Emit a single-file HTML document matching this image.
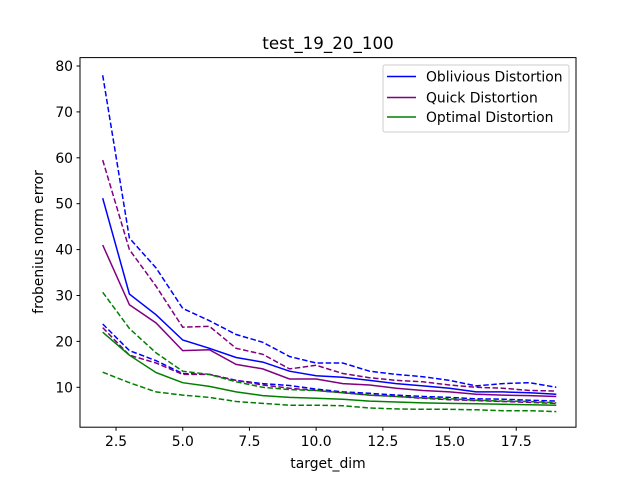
<!DOCTYPE html>
<html><head><meta charset="utf-8"><style>body{margin:0;background:#fff}svg{display:block;font-family:"DejaVu Sans","Liberation Sans",sans-serif}</style></head>
<body>
<svg id="chart" width="640" height="480">
<rect width="640" height="480" fill="#fff"/>
<text x="328" y="49" font-size="16.7" text-anchor="middle">test_19_20_100</text>
<g id="plot"></g>
<rect x="80" y="57.6" width="496" height="369.6" fill="none" stroke="#000" stroke-width="1"/>
<g id="axes" font-size="13.9"></g>
<text x="328" y="468" font-size="13.9" text-anchor="middle">target_dim</text>
<text transform="translate(43,242) rotate(-90)" font-size="13.9" text-anchor="middle">frobenius norm error</text>
<g>
<rect x="383" y="65" width="186" height="67" rx="2" fill="#fff" stroke="#ccc"/>
<line x1="387" y1="76.5" x2="416" y2="76.5" stroke="blue" stroke-width="1.5"/>
<text x="426" y="81.5" font-size="13.9">Oblivious Distortion</text>
<line x1="387" y1="97.5" x2="416" y2="97.5" stroke="purple" stroke-width="1.5"/>
<text x="426" y="102.5" font-size="13.9">Quick Distortion</text>
<line x1="387" y1="117" x2="416" y2="117" stroke="green" stroke-width="1.5"/>
<text x="426" y="122" font-size="13.9">Optimal Distortion</text>
</g>
</svg>
<script>
const dims=[2,3,4,5,6,7,8,9,10,11,12,13,14,15,16,17,18,19];
const oblivious=[51.2,30.3,25.8,20.3,18.5,16.5,15.5,13.5,12.5,12.2,11.5,10.8,10.3,9.8,9.0,9.0,8.8,8.5];
const obliviousHi=[78,42.5,36,27.2,24.5,21.5,19.8,16.7,15.3,15.3,13.5,12.8,12.3,11.5,10.3,10.8,11,10];
const obliviousLo=[23.8,18,15.8,13,12.8,11.5,10.8,10.4,9.6,9,8.7,8.3,8,7.8,7.5,7.4,7.2,7.0];
const quick=[41,28,24,18,18.2,15,14,11.8,11.8,10.8,10.5,9.8,9.3,9,8.5,8.3,8.2,8];
const quickHi=[59.5,40,32,23.1,23.3,18.5,17.2,14,14.8,13,12.1,11.5,11.2,10.5,10,9.8,9.3,9.2];
const quickLo=[23,17,15.3,12.8,12.8,11.5,10.5,9.8,9.3,8.8,8.3,8,7.6,7.3,7.1,6.9,6.7,6.5];
const optimal=[22,17,13.2,11,10.2,9,8.2,7.8,7.6,7.4,7.0,6.8,6.6,6.5,6.4,6.3,6.2,6.1];
const optimalHi=[30.7,22.8,17.5,13.5,12.8,11.2,10,9.5,9.3,8.8,8.3,8,7.7,7.5,7.2,7,6.9,6.6];
const optimalLo=[13.3,11,9,8.3,7.8,6.9,6.5,6.1,6.1,6,5.5,5.3,5.2,5.2,5.1,4.9,4.9,4.7];
const xTicks=[2.5,5.0,7.5,10.0,12.5,15.0,17.5];
const yTicks=[10,20,30,40,50,60,70,80];
const NS="http://www.w3.org/2000/svg";
function xs(v){return 102.7+(v-2)*26.68;}
function ys(v){return 433.2-v*4.59;}
const plot=document.getElementById('plot');
const axes=document.getElementById('axes');
const series=[
 ['oblivious-mean',oblivious,'blue',''],['oblivious-upper',obliviousHi,'blue','5.5,2.5'],['oblivious-lower',obliviousLo,'blue','5.5,2.5'],
 ['quick-mean',quick,'purple',''],['quick-upper',quickHi,'purple','5.5,2.5'],['quick-lower',quickLo,'purple','5.5,2.5'],
 ['optimal-mean',optimal,'green',''],['optimal-upper',optimalHi,'green','5.5,2.5'],['optimal-lower',optimalLo,'green','5.5,2.5']];
series.forEach(s=>{
 const p=document.createElementNS(NS,'polyline');
 p.setAttribute('points',dims.map((d,i)=>xs(d).toFixed(1)+','+ys(s[1][i]).toFixed(1)).join(' '));
 p.setAttribute('fill','none');p.setAttribute('stroke',s[2]);p.setAttribute('stroke-width','1.5');
 if(s[3])p.setAttribute('stroke-dasharray',s[3]);
 
 
 plot.appendChild(p);
});
xTicks.forEach(t=>{
 const l=document.createElementNS(NS,'line');
 l.setAttribute('x1',xs(t));l.setAttribute('x2',xs(t));l.setAttribute('y1',427.2);l.setAttribute('y2',430.7);l.setAttribute('stroke','#000');
 
 
 axes.appendChild(l);
 const tx=document.createElementNS(NS,'text');
 tx.setAttribute('x',xs(t));tx.setAttribute('y',446);tx.setAttribute('text-anchor','middle');tx.textContent=t.toFixed(1);
 
 
 axes.appendChild(tx);
});
yTicks.forEach(t=>{
 const l=document.createElementNS(NS,'line');
 l.setAttribute('x1',76.5);l.setAttribute('x2',80);l.setAttribute('y1',ys(t));l.setAttribute('y2',ys(t));l.setAttribute('stroke','#000');
 
 
 axes.appendChild(l);
 const tx=document.createElementNS(NS,'text');
 tx.setAttribute('x',73);tx.setAttribute('y',ys(t)+5);tx.setAttribute('text-anchor','end');tx.textContent=t;
 
 
 axes.appendChild(tx);
});
</script>
</body></html>
